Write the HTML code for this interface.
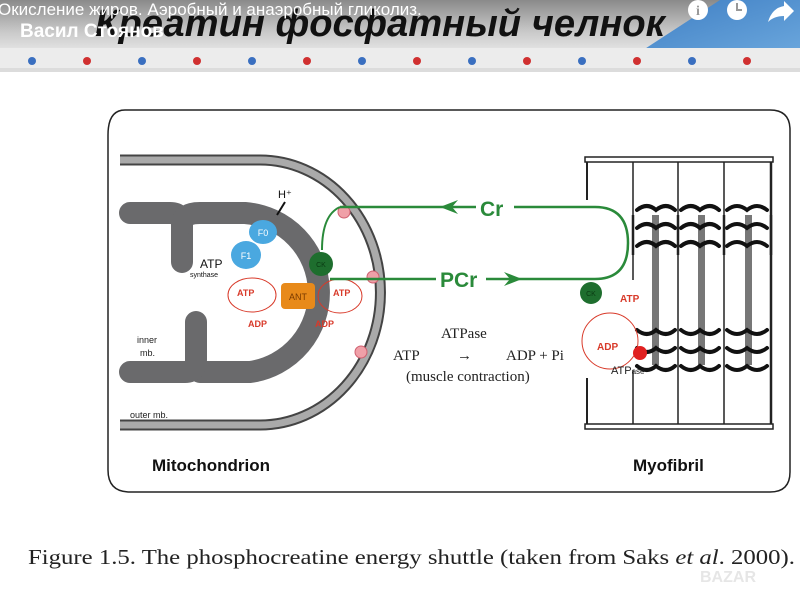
<!DOCTYPE html>
<html><head><meta charset="utf-8"><style>
html,body{margin:0;padding:0;width:800px;height:600px;overflow:hidden;background:#fff}
</style></head><body>
<svg width="800" height="600" viewBox="0 0 800 600" xmlns="http://www.w3.org/2000/svg">
<defs>
<linearGradient id="hd" x1="0" y1="0" x2="0" y2="1"><stop offset="0" stop-color="#8a8a8a"/><stop offset="0.6" stop-color="#c8c8c8"/><stop offset="1" stop-color="#e6e6e6"/></linearGradient>
<linearGradient id="bl" x1="0" y1="0" x2="1" y2="1"><stop offset="0" stop-color="#3f7fc4"/><stop offset="1" stop-color="#6aa6dc"/></linearGradient>
</defs>
<rect x="0" y="0" width="800" height="52" fill="url(#hd)"/>
<polygon points="640,52 720,0 800,0 800,52" fill="url(#bl)"/>
<rect x="0" y="48" width="800" height="22" fill="#ececec"/>
<rect x="0" y="68" width="800" height="4" fill="#dcdcdc"/>
<g>
<circle cx="32" cy="61" r="4" fill="#3a6fc0"/><circle cx="87" cy="61" r="4" fill="#d03030"/><circle cx="142" cy="61" r="4" fill="#3a6fc0"/><circle cx="197" cy="61" r="4" fill="#d03030"/><circle cx="252" cy="61" r="4" fill="#3a6fc0"/><circle cx="307" cy="61" r="4" fill="#d03030"/><circle cx="362" cy="61" r="4" fill="#3a6fc0"/><circle cx="417" cy="61" r="4" fill="#d03030"/><circle cx="472" cy="61" r="4" fill="#3a6fc0"/><circle cx="527" cy="61" r="4" fill="#d03030"/><circle cx="582" cy="61" r="4" fill="#3a6fc0"/><circle cx="637" cy="61" r="4" fill="#d03030"/><circle cx="692" cy="61" r="4" fill="#3a6fc0"/><circle cx="747" cy="61" r="4" fill="#d03030"/>
</g>
<text x="95" y="36" textLength="570" lengthAdjust="spacingAndGlyphs" font-family="Liberation Sans, sans-serif" font-size="38" font-weight="bold" font-style="italic" fill="#111">Креатин фосфатный челнок</text>
<text x="-2" y="15" font-family="Liberation Sans, sans-serif" font-size="17" fill="#fff">Окисление жиров. Аэробный и анаэробный гликолиз.</text>
<text x="20" y="37" font-family="Liberation Sans, sans-serif" font-size="19" font-weight="bold" fill="#fff">Васил Стоянов</text>
<circle cx="698" cy="10" r="10" fill="#fff"/><text x="698" y="15" text-anchor="middle" font-family="Liberation Serif,serif" font-size="14" font-weight="bold" fill="#999">i</text>
<circle cx="737" cy="10" r="10" fill="#fff"/><path d="M737 3v7h5" stroke="#999" stroke-width="2" fill="none"/>
<path d="M768 22 q4-14 16-16 v-5 l10 10-10 10v-5q-10 0-16 6z" fill="#fff"/>

<path d="M125 110 H770 Q790 110 790 130 V472 Q790 492 770 492 H130 Q108 492 108 470 V135 Q108 110 125 110Z" fill="none" stroke="#222" stroke-width="1.5"/>

<path d="M120 160 H260 A120 132 0 0 1 260 425 H120" fill="none" stroke="#444" stroke-width="11"/>
<path d="M120 160 H260 A120 132 0 0 1 260 425 H120" fill="none" stroke="#aaa" stroke-width="7"/>
<g fill="none" stroke="#6a6a6c" stroke-width="22" stroke-linejoin="round" stroke-linecap="round">
<path d="M130 213 H170 Q182 213 182 225 V262"/>
<path d="M182 225 Q182 213 200 213 H245 A80 80 0 0 1 250 372 H200"/>
<path d="M130 372 H185 Q196 372 196 360 V322"/>
</g>
<circle cx="344" cy="212" r="6" fill="#f0a0a8" stroke="#d06070"/>
<circle cx="373" cy="277" r="6" fill="#f0a0a8" stroke="#d06070"/>
<circle cx="361" cy="352" r="6" fill="#f0a0a8" stroke="#d06070"/>
<ellipse cx="263" cy="232" rx="14" ry="12" fill="#4aa8e0"/>
<ellipse cx="246" cy="255" rx="15" ry="14" fill="#4aa8e0"/>
<text x="263" y="236" text-anchor="middle" font-family="Liberation Sans,sans-serif" font-size="9" fill="#fff">F0</text>
<text x="246" y="259" text-anchor="middle" font-family="Liberation Sans,sans-serif" font-size="9" fill="#fff">F1</text>
<text x="278" y="198" font-family="Liberation Sans,sans-serif" font-size="11" fill="#111">H⁺</text>
<path d="M285 202 L277 215" stroke="#111" stroke-width="2"/>
<text x="200" y="268" font-family="Liberation Sans,sans-serif" font-size="12" fill="#111">ATP</text>
<text x="190" y="277" font-family="Liberation Sans,sans-serif" font-size="7" fill="#111">synthase</text>
<circle cx="321" cy="264" r="12" fill="#1e6e2e"/>
<text x="321" y="267" text-anchor="middle" font-family="Liberation Sans,sans-serif" font-size="7" fill="#0a3a12">CK</text>
<rect x="281" y="283" width="34" height="26" rx="4" fill="#e88a1a"/>
<text x="298" y="300" text-anchor="middle" font-family="Liberation Sans,sans-serif" font-size="9" fill="#7a3a00">ANT</text>
<g fill="none" stroke="#d83a2a" stroke-width="1">
<ellipse cx="252" cy="295" rx="24" ry="17"/>
<ellipse cx="340" cy="296" rx="22" ry="17"/>
</g>
<g font-family="Liberation Sans,sans-serif" font-size="9" fill="#d83a2a" font-weight="bold">
<text x="237" y="296">ATP</text><text x="248" y="327">ADP</text>
<text x="333" y="296">ATP</text><text x="315" y="327">ADP</text>
</g>
<g font-family="Liberation Sans,sans-serif" font-size="9" fill="#222">
<text x="137" y="343">inner</text><text x="140" y="356">mb.</text>
<text x="130" y="418">outer mb.</text>
</g>

<path d="M340 207 H595 Q628 207 628 243 Q628 279 595 279 H330" fill="none" stroke="#2a8a3a" stroke-width="2.5"/>
<path d="M340 207 Q322 215 322 250" fill="none" stroke="#2a8a3a" stroke-width="2"/>
<path d="M440 207 L458 200 L452 207 L458 214Z" fill="#2a8a3a"/>
<path d="M522 279 L504 272 L510 279 L504 286Z" fill="#2a8a3a"/>
<rect x="476" y="196" width="38" height="22" fill="#fff"/>
<text x="480" y="216" font-family="Liberation Sans,sans-serif" font-size="21" font-weight="bold" fill="#2a8a3a">Cr</text>
<rect x="436" y="268" width="50" height="22" fill="#fff"/>
<text x="440" y="287" font-family="Liberation Sans,sans-serif" font-size="21" font-weight="bold" fill="#2a8a3a">PCr</text>

<g font-family="Liberation Serif,serif" font-size="15" fill="#222">
<text x="441" y="338">ATPase</text>
<text x="393" y="360">ATP</text>
<text x="457" y="360">→</text>
<text x="506" y="360">ADP + Pi</text>
<text x="406" y="381">(muscle contraction)</text>
</g>

<g stroke="#222" fill="none">
<rect x="585" y="157" width="188" height="5" stroke-width="1.5"/>
<rect x="585" y="424" width="188" height="5" stroke-width="1.5"/>
<path d="M587 162 V200 M587 378 V424" stroke-width="2"/>
<path d="M633 162 V280 M633 370 V424" stroke-width="1.5"/>
<path d="M678 162 V424 M724 162 V424" stroke-width="1.5"/>
<path d="M771 162 V424" stroke-width="2.5"/>
<path d="M633 215 V255 M678 215 V255 M724 215 V255 M771 215 V255" stroke-width="2.5"/>
</g>
<g fill="#777">
<rect x="652" y="215" width="7" height="150"/>
<rect x="698" y="215" width="7" height="150"/>
<rect x="745" y="215" width="7" height="150"/>
</g>
<g stroke="#111" stroke-width="4" fill="none" stroke-linecap="round">
<path d="M637 210q10-8 19 0q10-8 19 0 M681 210q10-8 19 0q10-8 19 0 M727 210q10-8 20 0q10-8 20 0"/>
<path d="M637 228q10-8 19 0q10-8 19 0 M681 228q10-8 19 0q10-8 19 0 M727 228q10-8 20 0q10-8 20 0"/>
<path d="M637 246q10-8 19 0q10-8 19 0 M681 246q10-8 19 0q10-8 19 0 M727 246q10-8 20 0q10-8 20 0"/>
<path d="M637 330q10 8 19 0q10 8 19 0 M681 330q10 8 19 0q10 8 19 0 M727 330q10 8 20 0q10 8 20 0"/>
<path d="M637 348q10 8 19 0q10 8 19 0 M681 348q10 8 19 0q10 8 19 0 M727 348q10 8 20 0q10 8 20 0"/>
<path d="M637 366q10 8 19 0q10 8 19 0 M681 366q10 8 19 0q10 8 19 0 M727 366q10 8 20 0q10 8 20 0"/>
</g>
<circle cx="591" cy="293" r="11" fill="#1e6e2e"/>
<text x="591" y="296" text-anchor="middle" font-family="Liberation Sans,sans-serif" font-size="7" fill="#0a3a12">CK</text>
<circle cx="610" cy="341" r="28" fill="none" stroke="#d83a2a" stroke-width="1"/>
<circle cx="640" cy="353" r="7" fill="#e02020"/>
<g font-family="Liberation Sans,sans-serif" font-size="10" fill="#d83a2a" font-weight="bold">
<text x="620" y="302">ATP</text><text x="597" y="350">ADP</text>
</g>
<text x="611" y="374" font-family="Liberation Sans,sans-serif" font-size="11" fill="#222">ATP<tspan font-size="8">ase</tspan></text>

<text x="152" y="471" font-family="Liberation Sans,sans-serif" font-size="17" font-weight="bold" fill="#111">Mitochondrion</text>
<text x="633" y="471" font-family="Liberation Sans,sans-serif" font-size="17" font-weight="bold" fill="#111">Myofibril</text>
<text x="28" y="564" textLength="767" lengthAdjust="spacingAndGlyphs" font-family="Liberation Serif,serif" font-size="21" fill="#222">Figure 1.5. The phosphocreatine energy shuttle (taken from Saks <tspan font-style="italic">et al</tspan>. 2000).</text>
<text x="700" y="582" font-family="Liberation Sans,sans-serif" font-size="16" font-weight="bold" fill="#e6e6e6">BAZAR</text>
</svg>
</body></html>
